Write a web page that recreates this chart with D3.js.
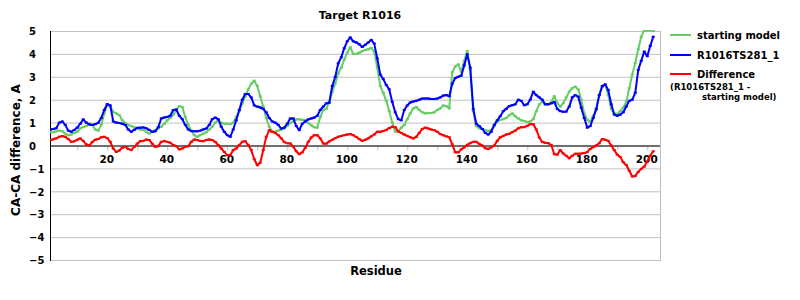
<!DOCTYPE html>
<html>
<head>
<meta charset="utf-8">
<script src="https://cdn.jsdelivr.net/npm/d3@7"></script>
<style>
  body { margin: 0; background: #fff; }
  text { font-family: "DejaVu Sans", sans-serif; font-weight: bold; fill: #000; }
</style>
</head>
<body>
<div id="chart"></div>
<script>
// residues 1..202
var starting = [
  0.58,0.58,0.62,0.65,0.62,0.52,0.45,0.48,0.55,0.6,
  0.75,0.8,0.85,0.95,0.9,0.7,0.65,0.9,1.4,1.78,
  1.7,1.47,1.4,1.33,1.1,0.98,0.89,0.85,0.79,0.75,
  0.7,0.68,0.6,0.52,0.6,0.67,0.75,0.82,0.95,1.1,
  1.2,1.35,1.55,1.72,1.68,1.25,0.9,0.65,0.45,0.38,
  0.45,0.52,0.58,0.7,0.82,1.0,1.1,0.99,0.95,0.95,
  0.93,1.0,1.25,1.5,1.84,2.15,2.45,2.7,2.83,2.6,
  2.15,1.7,1.2,0.82,0.6,0.6,0.65,0.7,0.75,0.85,
  0.98,1.05,1.14,1.15,1.12,1.1,0.98,0.88,0.8,0.78,
  1.25,1.55,1.6,1.9,2.35,2.71,3.15,3.4,3.75,4.05,
  4.29,4.0,4.0,4.05,4.12,4.17,4.2,4.26,4.1,3.4,
  2.6,2.3,1.95,1.5,1.0,0.6,0.62,0.78,0.9,1.15,
  1.4,1.62,1.68,1.55,1.45,1.4,1.42,1.42,1.45,1.55,
  1.62,1.75,1.72,1.62,3.2,3.45,3.54,3.22,3.7,4.13,
  3.3,1.5,0.85,0.75,0.72,0.68,0.63,0.68,0.85,1.05,
  1.12,1.15,1.2,1.32,1.4,1.28,1.18,1.1,1.07,1.03,
  1.05,1.15,1.5,1.8,1.9,1.8,1.8,1.88,2.15,1.85,
  1.7,1.85,2.1,2.35,2.5,2.57,2.45,2.0,1.4,1.12,
  1.03,1.3,1.55,2.2,2.55,2.64,2.2,1.6,1.4,1.38,
  1.5,1.65,1.9,2.5,3.1,3.6,4.2,4.75,5.05,5.1,
  5.15,5.2
];
var model = [
  0.7,0.72,0.75,1.0,1.05,0.9,0.65,0.6,0.68,0.78,
  0.95,1.14,1.0,0.92,0.9,0.93,0.99,1.2,1.55,1.81,
  1.75,1.05,1.0,0.98,0.95,0.9,0.7,0.6,0.68,0.77,
  0.78,0.79,0.75,0.68,0.6,0.62,0.8,1.18,1.22,1.25,
  1.3,1.55,1.57,1.3,1.15,0.9,0.7,0.63,0.62,0.62,
  0.65,0.7,0.74,0.9,1.15,1.22,1.15,0.82,0.6,0.45,
  0.38,0.7,1.1,1.55,2.0,2.25,2.25,2.1,1.75,1.7,
  1.66,1.6,1.45,1.2,1.05,1.0,0.9,0.74,0.78,0.95,
  1.18,1.18,0.85,0.67,0.95,1.05,1.14,1.18,1.22,1.3,
  1.55,1.7,1.84,1.87,2.6,3.0,3.59,3.85,4.25,4.55,
  4.72,4.55,4.5,4.42,4.3,4.4,4.5,4.61,4.45,3.8,
  3.1,2.9,2.64,2.45,1.9,1.45,1.15,1.1,1.55,1.75,
  1.88,1.92,1.95,2.0,2.05,2.05,2.05,2.03,2.03,2.05,
  2.1,2.18,2.2,2.15,2.7,2.95,3.0,3.05,3.5,3.98,
  3.4,1.6,0.95,0.85,0.72,0.55,0.48,0.6,0.9,1.1,
  1.28,1.5,1.6,1.72,1.76,1.8,2.0,1.95,1.76,1.8,
  2.0,2.35,2.2,2.1,2.0,1.8,1.8,1.84,1.9,1.6,
  1.5,1.47,1.48,1.7,2.1,2.2,2.13,1.65,1.2,0.78,
  0.85,1.2,1.6,2.2,2.6,2.67,2.42,1.8,1.35,1.3,
  1.35,1.45,1.7,1.95,2.0,2.3,3.3,3.7,4.1,3.9,
  4.35,4.75
];
var difference = [
  0.23,0.27,0.31,0.38,0.41,0.38,0.28,0.16,0.18,0.25,
  0.31,0.2,0.05,0.0,0.15,0.25,0.28,0.36,0.38,0.32,
  0.16,-0.13,-0.28,-0.22,-0.1,-0.06,-0.15,-0.2,-0.06,0.08,
  0.19,0.2,0.26,0.24,0.08,-0.06,-0.03,0.16,0.2,0.16,
  0.12,0.02,-0.03,-0.17,-0.13,-0.06,-0.03,0.16,0.26,0.24,
  0.2,0.19,0.24,0.26,0.24,0.16,0.02,-0.13,-0.28,-0.42,
  -0.42,-0.2,-0.13,0.02,0.16,0.19,0.02,-0.2,-0.6,-0.86,
  -0.75,-0.2,0.38,0.67,0.6,0.55,0.45,0.31,0.15,0.1,
  0.09,-0.05,-0.25,-0.38,-0.3,-0.1,0.16,0.35,0.45,0.45,
  0.31,0.09,0.08,0.18,0.25,0.32,0.38,0.42,0.45,0.48,
  0.5,0.45,0.37,0.28,0.2,0.25,0.31,0.4,0.48,0.6,
  0.6,0.63,0.68,0.76,0.82,0.8,0.62,0.55,0.48,0.42,
  0.36,0.31,0.38,0.55,0.72,0.78,0.74,0.7,0.67,0.6,
  0.5,0.45,0.4,0.36,0.05,-0.3,-0.3,-0.17,-0.08,0.03,
  0.1,0.16,0.16,0.07,0.0,-0.12,-0.15,-0.08,0.0,0.2,
  0.36,0.42,0.48,0.51,0.58,0.65,0.75,0.8,0.8,0.86,
  0.93,0.93,0.7,0.35,0.15,0.12,0.1,0.02,-0.38,-0.4,
  -0.2,-0.35,-0.45,-0.56,-0.45,-0.36,-0.36,-0.35,-0.33,-0.29,
  -0.15,-0.07,0.0,0.1,0.28,0.25,0.2,0.0,-0.2,-0.4,
  -0.5,-0.73,-0.85,-1.1,-1.35,-1.33,-1.15,-1.02,-0.92,-0.7,
  -0.45,-0.25
];
var yTicks = [5, 4, 3, 2, 1, 0, -1, -2, -3, -4, -5];
var xLabels = [20, 40, 60, 80, 100, 120, 140, 160, 180, 200];
var xMarks = [10, 20, 30, 40, 50, 60, 70, 80, 90, 100, 110, 120, 130, 140, 150, 160, 170, 180, 190, 200];

var series = [
  {name: "starting model", values: starting, color: "#66cc66"},
  {name: "R1016TS281_1", values: model, color: "#0000ff"},
  {name: "Difference", values: difference, color: "#ff0000"}
];

var svgSize = {width: 800, height: 300};
var plot = {left: 50, right: 660, top: 31, bottom: 260};

var svg = d3.select("#chart").append("svg")
    .attr("width", svgSize.width)
    .attr("height", svgSize.height)
    .style("display", "block");

svg.append("rect").attr("width", svgSize.width).attr("height", svgSize.height).attr("fill", "#fff");

var xScale = d3.scaleLinear().domain([0, 204.25]).range([47.25, plot.right]);
var yScale = d3.scaleLinear().domain([-5, 5]).range([plot.bottom, plot.top]);

// grid
svg.append("g").selectAll("line").data(yTicks).enter().append("line")
    .attr("x1", plot.left).attr("x2", plot.right)
    .attr("y1", d => yScale(d) + 0.5).attr("y2", d => yScale(d) + 0.5)
    .attr("stroke", "#c0c0c0");
svg.append("line")
    .attr("x1", plot.right + 0.5).attr("x2", plot.right + 0.5)
    .attr("y1", plot.top).attr("y2", plot.bottom + 1)
    .attr("stroke", "#c0c0c0");

// y axis - labels are left aligned in the original
var leftAxis = d3.axisLeft(yScale).tickValues(yTicks).tickSize(0);
var yAxisG = svg.append("g").attr("transform", "translate(" + plot.left + ",0.5)").call(leftAxis);
yAxisG.select(".domain").remove();
yAxisG.selectAll("text")
    .attr("x", -21)
    .attr("text-anchor", "start")
    .style("font-size", "10px").style("font-family", "DejaVu Sans").style("font-weight", "bold");
svg.append("line")
    .attr("x1", plot.left + 0.5).attr("x2", plot.left + 0.5)
    .attr("y1", plot.top).attr("y2", plot.bottom + 1)
    .attr("stroke", "#000");

// x axis on zero line
var markAxis = d3.axisBottom(xScale).tickValues(xMarks).tickSize(5).tickFormat("");
var markG = svg.append("g").attr("transform", "translate(0," + yScale(0) + ")").call(markAxis);
markG.select(".domain").remove();
markG.selectAll("line").attr("stroke", "#c0c0c0");

var bottomAxis = d3.axisBottom(xScale).tickValues(xLabels).tickSize(0).tickPadding(10);
var xAxisG = svg.append("g").attr("transform", "translate(-1," + yScale(0) + ")").call(bottomAxis);
xAxisG.select(".domain").remove();
xAxisG.selectAll("text").style("font-size", "10.5px").style("font-family", "DejaVu Sans").style("font-weight", "bold");

svg.append("line")
    .attr("x1", plot.left).attr("x2", plot.right)
    .attr("y1", yScale(0) + 0.5).attr("y2", yScale(0) + 0.5)
    .attr("stroke", "#000");

// lines
svg.append("clipPath").attr("id", "plotClip").append("rect")
    .attr("x", plot.left).attr("y", plot.top - 1)
    .attr("width", plot.right - plot.left).attr("height", plot.bottom - plot.top + 2);

var line = d3.line()
    .x((d, i) => xScale(i + 1))
    .y(d => yScale(d));

var chartData = svg.append("g").attr("clip-path", "url(#plotClip)");
series.forEach(s => {
    chartData.append("path")
        .datum(s.values)
        .attr("d", line)
        .attr("fill", "none")
        .attr("stroke", s.color)
        .attr("stroke-width", 2)
        .attr("stroke-linejoin", "round");
    chartData.append("g").selectAll("rect").data(s.values).enter().append("rect")
        .attr("x", (d, i) => xScale(i + 1) - 1.5)
        .attr("y", d => Math.max(yScale(d), plot.top) - 1)
        .attr("width", 3).attr("height", 2)
        .attr("fill", s.color);
});

// titles
svg.append("text").attr("x", 360).attr("y", 19).attr("text-anchor", "middle")
    .style("font-size", "11px").text("Target R1016");
svg.append("text").attr("x", 376).attr("y", 275).attr("text-anchor", "middle")
    .style("font-size", "11.5px").text("Residue");
svg.append("text").attr("transform", "translate(20,150) rotate(-90)").attr("text-anchor", "middle")
    .style("font-size", "12px").text("CA-CA difference, A");

// legend
var legendY = [35, 55, 74];
var legend = svg.append("g");
series.forEach((s, i) => {
    legend.append("line")
        .attr("x1", 670).attr("x2", 691)
        .attr("y1", legendY[i]).attr("y2", legendY[i])
        .attr("stroke", s.color).attr("stroke-width", 2);
    legend.append("rect")
        .attr("x", 679).attr("y", legendY[i] - 1).attr("width", 3).attr("height", 2)
        .attr("fill", s.color);
    legend.append("text").attr("x", 697).attr("y", legendY[i] + 4)
        .style("font-size", "10px").text(s.name);
});
legend.append("text").attr("x", 670).attr("y", 90).style("font-size", "8.5px").text("(R1016TS281_1 -");
legend.append("text").attr("x", 702).attr("y", 100).style("font-size", "8.5px").text("starting model)");
</script>
</body>
</html>
